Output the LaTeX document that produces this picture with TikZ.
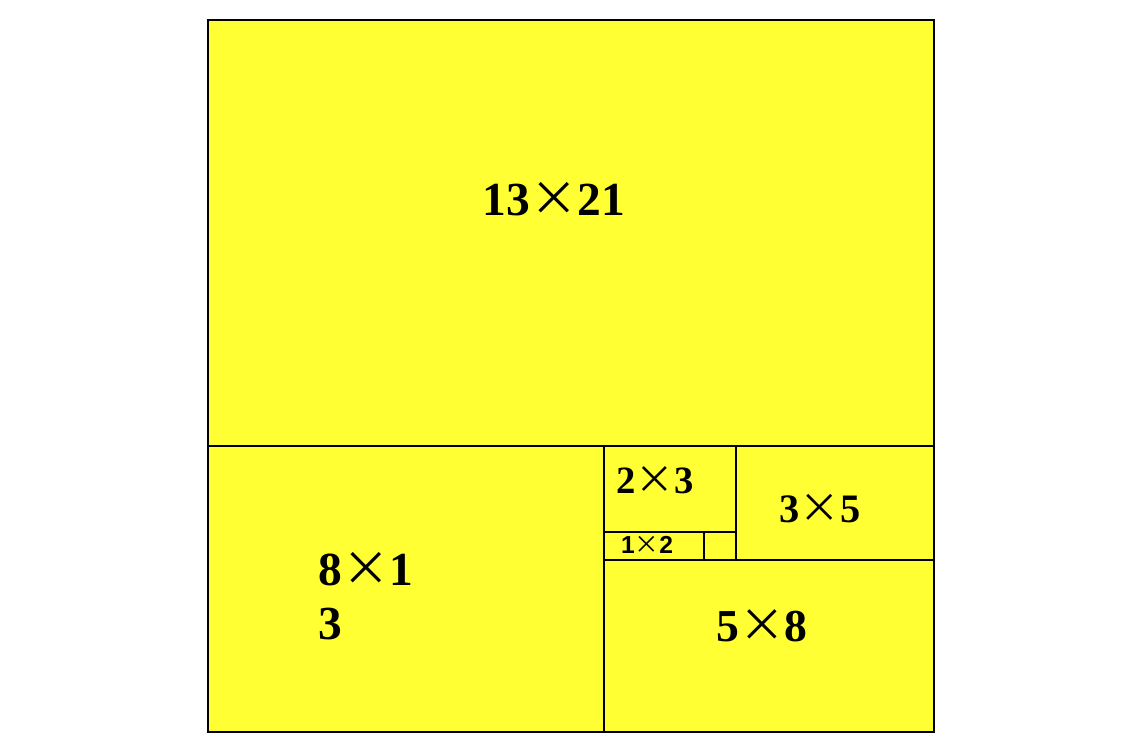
\documentclass[tikz,border=0pt]{standalone}
\usepackage{fontspec}
\setmainfont{Liberation Serif}
\setsansfont{Liberation Sans}
\newfontfamily\cjk{Noto Sans CJK SC}
\usepackage{xcolor}
\definecolor{fibyellow}{HTML}{FFFF33}
\newcommand{\bytimes}{{\cjk\mdseries ×}}
\tikzset{
  edge/.style={line width=1.1pt},
  label/.style={inner sep=0pt, font=\bfseries\fontsize{#1}{#1}\selectfont}
}

\begin{document}
\begin{tikzpicture}[x=0.02cm, y=-0.02cm]
    \useasboundingbox (0,0) rectangle (1142,750);
    \draw[edge, fill=fibyellow] (208,20) rectangle (934,732);

    % the cuts
    \draw[edge] (208,446) -- (934,446);
    \draw[edge] (604,446) -- (604,732);
    \draw[edge] (604,560) -- (934,560);
    \draw[edge] (736,446) -- (736,560);
    \draw[edge] (604,532) -- (736,532);
    \draw[edge] (704,532) -- (704,560);

    % sizes
    \node[label=27] (big) at (554,199) {13\bytimes21};
    \node[label=27, anchor=west, align=left] (left) at (318,596) {8\bytimes1\\[4pt]3};
    \node[label=26] (low) at (762,626) {5\bytimes8};
    \node[label=23] (right) at (820,509) {3\bytimes5};
    \node[label=22] (mid) at (655,480) {2\bytimes3};
    \node[label=14, font=\sffamily\bfseries\fontsize{14}{14}\selectfont] (tiny) at (647,545) {1\bytimes2};

\end{tikzpicture}
\end{document}
